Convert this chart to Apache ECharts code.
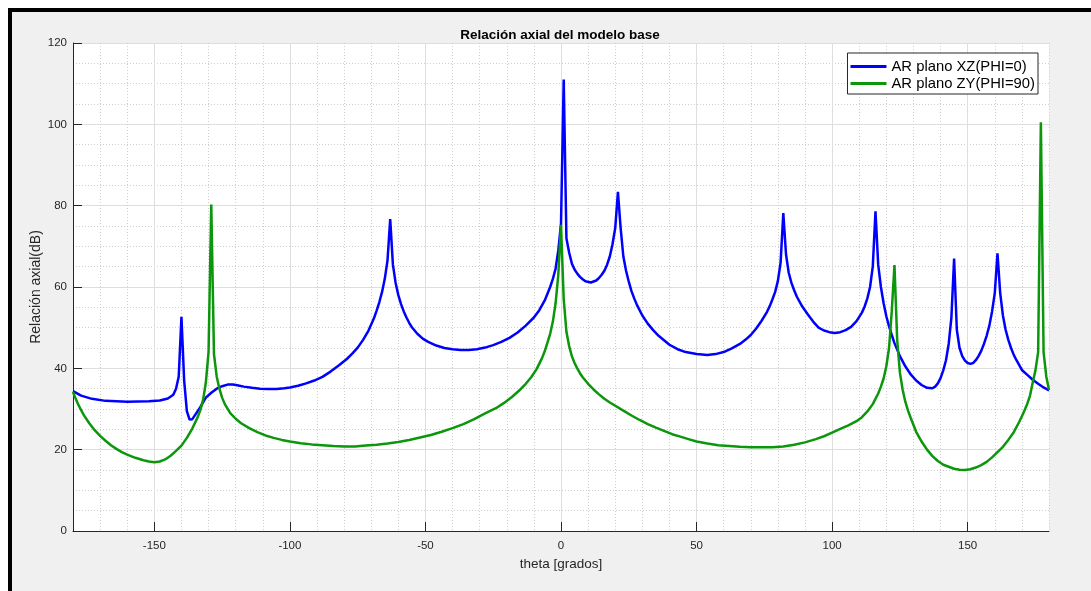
<!DOCTYPE html>
<html>
<head>
<meta charset="utf-8">
<script src="https://cdn.jsdelivr.net/npm/echarts@6/dist/echarts.min.js"></script>
<style>
  html, body { margin: 0; padding: 0; background: #ffffff; }
  #frame {
    position: absolute; left: 8px; top: 8px; width: 1079px; height: 579px;
    border-left: 4px solid #000; border-top: 4px solid #000; background: #f0f0f0;
  }
  #chart { position: absolute; left: 0; top: 0; width: 1091px; height: 591px; }
</style>
</head>
<body>
<div id="frame"></div>
<div id="chart"></div>
<script>
// Axial ratio (dB) versus theta (degrees) for the two principal planes
const thetaXZ = [-180, -177, -173, -168, -160, -152, -148, -145, -143, -142, -141, -140, -139, -138, -137, -136, -135, -133, -131, -129, -127, -125, -123, -121, -119, -117, -114, -111, -108, -105, -102, -100, -97, -94, -91, -88, -85, -82, -79, -77, -75, -73, -71, -69, -68, -67, -66, -65, -64, -63, -62, -61, -60, -59, -58, -57, -56, -55, -53, -51, -49, -46, -43, -40, -37, -34, -31, -28, -25, -22, -19, -16, -13, -10, -8, -6, -4, -3, -2, -1, 0, 1, 2, 3, 4, 5, 6, 7, 8, 9, 11, 13, 14, 15, 16, 17, 18, 19, 20, 21, 22, 23, 24, 25, 26, 27, 28, 30, 32, 34, 36, 38, 40, 43, 46, 50, 54, 57, 60, 63, 66, 68, 70, 72, 74, 76, 77, 78, 79, 80, 81, 82, 83, 84, 85, 86, 87, 89, 91, 93, 95, 97, 99, 101, 103, 105, 107, 109, 111, 112, 113, 114, 115, 116, 117, 118, 119, 120, 121, 122, 123, 125, 127, 129, 131, 133, 135, 137, 138, 139, 140, 141, 142, 143, 144, 145, 146, 147, 148, 149, 150, 151, 152, 153, 154, 155, 156, 157, 158, 159, 160, 161, 162, 163, 164, 165, 166, 167, 168, 170, 172, 174, 176, 178, 180];
const arXZ = [34.4, 33.3, 32.5, 32.0, 31.8, 31.9, 32.1, 32.6, 33.5, 35.0, 38.0, 52.7, 37.0, 29.5, 27.4, 27.5, 28.5, 30.5, 32.8, 34.0, 35.0, 35.6, 36.0, 36.0, 35.8, 35.5, 35.2, 35.0, 34.9, 34.9, 35.1, 35.3, 35.7, 36.3, 37.0, 37.9, 39.2, 40.7, 42.3, 43.6, 45.1, 47.0, 49.3, 52.3, 54.2, 56.3, 58.8, 62.0, 66.5, 76.7, 65.5, 61.0, 58.0, 55.8, 54.0, 52.5, 51.2, 50.1, 48.5, 47.3, 46.5, 45.6, 45.0, 44.7, 44.5, 44.5, 44.7, 45.1, 45.7, 46.5, 47.5, 48.8, 50.5, 52.5, 54.3, 56.7, 60.0, 62.0, 64.5, 69.0, 75.5, 111.0, 72.0, 68.5, 65.8, 64.3, 63.3, 62.5, 61.9, 61.4, 61.1, 61.6, 62.2, 63.0, 64.0, 65.5, 67.5, 70.5, 74.5, 83.4, 74.5, 67.5, 64.0, 61.3, 59.0, 57.2, 55.6, 53.0, 51.0, 49.4, 48.0, 46.9, 45.8, 44.7, 44.0, 43.5, 43.3, 43.5, 44.0, 44.9, 46.0, 47.0, 48.2, 49.8, 51.7, 53.9, 55.3, 57.0, 58.8, 61.5, 66.0, 78.2, 68.0, 63.5, 61.0, 59.2, 57.6, 55.2, 53.3, 51.5, 50.0, 49.3, 48.9, 48.7, 48.9, 49.4, 50.2, 51.6, 53.7, 55.2, 57.2, 60.0, 65.0, 78.6, 65.5, 60.0, 56.0, 52.8, 50.3, 48.2, 46.2, 43.0, 40.5, 38.5, 37.0, 35.9, 35.2, 35.1, 35.5, 36.3, 37.6, 39.5, 42.0, 46.0, 52.5, 67.0, 49.5, 45.0, 43.0, 41.9, 41.3, 41.1, 41.3, 42.0, 43.0, 44.3, 46.0, 48.0, 50.5, 54.0, 58.5, 68.3, 58.5, 53.0, 49.5, 47.0, 45.0, 43.3, 42.0, 39.6, 38.4, 37.2, 36.2, 35.3, 34.6];

const thetaZY = [-180, -179, -178, -177, -176, -174, -172, -170, -168, -166, -164, -162, -160, -157, -154, -152, -150, -148, -146, -144, -142, -140, -138, -136, -134, -133, -132, -131, -130, -129, -128, -127, -126, -125, -124, -122, -120, -118, -115, -112, -109, -106, -103, -100, -96, -92, -88, -84, -80, -76, -72, -68, -64, -60, -56, -52, -48, -44, -40, -36, -32, -28, -24, -21, -18, -15, -13, -11, -9, -7, -6, -5, -4, -3, -2, -1, 0, 1, 2, 3, 4, 5, 6, 7, 8, 10, 12, 14, 16, 18, 20, 23, 26, 29, 32, 35, 38, 41, 44, 47, 50, 54, 58, 62, 66, 70, 74, 78, 82, 86, 90, 94, 97, 100, 103, 106, 109, 111, 113, 115, 117, 118, 119, 120, 121, 122, 123, 124, 125, 126, 127, 128, 129, 131, 133, 135, 137, 139, 141, 143, 145, 147, 149, 151, 153, 155, 157, 159, 161, 163, 165, 167, 169, 170, 171, 172, 173, 174, 175, 176, 177, 178, 179, 180];
const arZY = [34.2, 32.5, 31.0, 29.7, 28.5, 26.5, 24.8, 23.4, 22.2, 21.1, 20.2, 19.4, 18.8, 18.0, 17.4, 17.1, 16.9, 17.1, 17.6, 18.5, 19.7, 21.0, 22.9, 25.2, 28.0, 29.8, 32.3, 36.5, 44.0, 80.3, 43.5, 38.0, 35.0, 32.8, 31.2, 29.0, 27.6, 26.5, 25.3, 24.3, 23.5, 22.9, 22.4, 22.0, 21.6, 21.3, 21.1, 20.9, 20.8, 20.8, 21.0, 21.2, 21.5, 21.9, 22.4, 23.0, 23.6, 24.4, 25.3, 26.3, 27.5, 28.9, 30.2, 31.5, 33.0, 34.8, 36.2, 37.8, 39.8, 42.5, 44.2, 46.3, 48.5, 51.5, 56.0, 63.0, 75.3, 57.0, 49.0, 45.5, 43.0, 41.3, 40.0, 38.8, 37.8, 36.2, 34.8, 33.6, 32.5, 31.6, 30.8, 29.6, 28.4, 27.3, 26.3, 25.4, 24.6, 23.8, 23.2, 22.6, 22.0, 21.5, 21.1, 20.9, 20.7, 20.6, 20.6, 20.6, 20.8, 21.2, 21.8, 22.6, 23.3, 24.2, 25.1, 26.0, 27.0, 28.0, 29.4, 31.2, 33.8, 35.5, 37.5, 40.5, 45.0, 54.0, 65.4, 47.0, 39.0, 34.8, 31.8, 29.6, 27.8, 24.4, 22.0, 20.0, 18.4, 17.2, 16.3, 15.8, 15.3, 15.05, 15.0, 15.2, 15.6, 16.2, 17.0, 18.1, 19.4, 20.7, 22.4, 24.3, 26.8, 28.2, 29.7, 31.3, 33.3, 36.5, 39.5, 44.0, 100.5, 44.0, 38.0, 34.7];

const xMajorTicks = [-150, -100, -50, 0, 50, 100, 150];
const seriesNames = ['AR plano XZ(PHI=0)', 'AR plano ZY(PHI=90)'];

const font = 'Liberation Sans, Arial, Helvetica, sans-serif';
const axisInk = '#262626';

const chart = echarts.init(document.getElementById('chart'), null, { renderer: 'canvas' });

chart.setOption({
  animation: false,
  backgroundColor: 'transparent',
  title: {
    text: 'Relación axial del modelo base',
    left: 555, top: 23, textAlign: 'center',
    textStyle: { fontFamily: font, fontSize: 13.5, fontWeight: 'bold', color: '#000' }
  },
  legend: {
    orient: 'vertical', right: 53, top: 53,
    icon: 'rect', itemWidth: 36, itemHeight: 3, itemGap: 2,
    padding: [6, 3, 3, 3],
    backgroundColor: '#ffffff', borderColor: axisInk, borderWidth: 1, borderRadius: 0,
    textStyle: { fontFamily: font, fontSize: 14.8, color: '#000' },
    data: seriesNames
  },
  grid: {
    left: 73, right: 42, top: 43, bottom: 60,
    show: true, backgroundColor: '#ffffff', borderWidth: 0
  },
  xAxis: [
    {
      // minor grid, every 10 degrees
      type: 'value', min: -180, max: 180, interval: 10,
      axisLine: { show: false }, axisTick: { show: false }, axisLabel: { show: false },
      splitLine: { show: true, lineStyle: { color: '#cfcfcf', type: [1, 2], width: 1 } }
    },
    {
      // major ticks, labels and grid
      type: 'value', min: -180, max: 180, position: 'bottom',
      name: 'theta [grados]', nameLocation: 'middle', nameGap: 26,
      nameTextStyle: { fontFamily: font, fontSize: 13.5, color: axisInk },
      axisLine: { show: true, onZero: false, lineStyle: { color: axisInk, width: 1 } },
      axisTick: { show: true, inside: true, length: 9, customValues: xMajorTicks, lineStyle: { color: axisInk } },
      axisLabel: { show: true, customValues: xMajorTicks, margin: 9, fontFamily: font, fontSize: 11.5, color: axisInk },
      splitLine: { show: true, lineStyle: { color: '#dedede', width: 1 } }
    }
  ],
  yAxis: {
    type: 'value', min: 0, max: 120, interval: 20,
    name: 'Relación axial(dB)', nameLocation: 'middle', nameGap: 30, nameMoveOverlap: false,
    nameTextStyle: { fontFamily: font, fontSize: 14, color: axisInk },
    axisLine: { show: true, onZero: false, lineStyle: { color: axisInk, width: 1 } },
    axisTick: { show: true, inside: true, length: 9, lineStyle: { color: axisInk } },
    axisLabel: { margin: 6, fontFamily: font, fontSize: 11.5, color: axisInk },
    splitLine: { show: true, lineStyle: { color: '#dedede', width: 1 } },
    minorTick: { show: false, splitNumber: 4 },
    minorSplitLine: { show: true, lineStyle: { color: '#cfcfcf', type: [1, 2], width: 1 } }
  },
  series: [
    {
      name: seriesNames[0], type: 'line', xAxisIndex: 0,
      data: thetaXZ.map((t, i) => [t, arXZ[i]]),
      showSymbol: false, symbol: 'none', smooth: false,
      lineStyle: { color: '#0000ff', width: 2.5 }, itemStyle: { color: '#0000ff' },
      z: 3
    },
    {
      name: seriesNames[1], type: 'line', xAxisIndex: 0,
      data: thetaZY.map((t, i) => [t, arZY[i]]),
      showSymbol: false, symbol: 'none', smooth: false,
      lineStyle: { color: '#0b960b', width: 2.5 }, itemStyle: { color: '#0b960b' },
      z: 4
    }
  ]
});
</script>
</body>
</html>
